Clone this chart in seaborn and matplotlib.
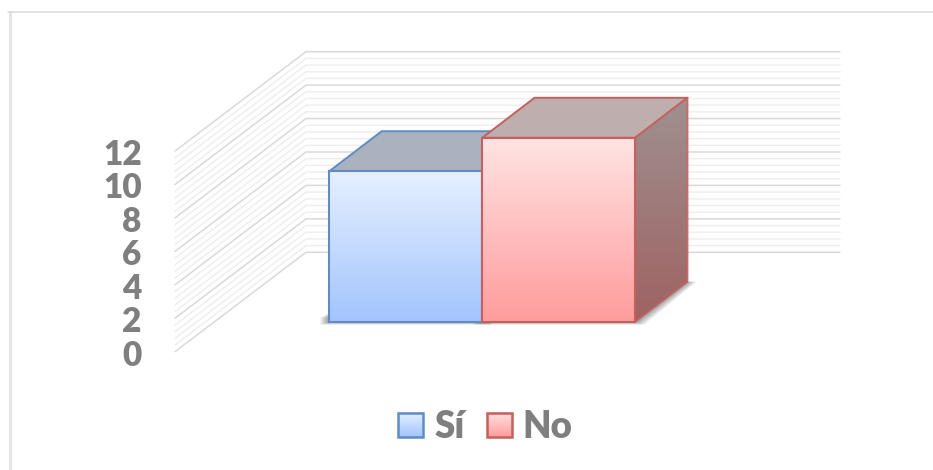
import numpy as np
import matplotlib
matplotlib.use("Agg")
import matplotlib.pyplot as plt
import seaborn as sns
from matplotlib.patches import Patch, Polygon, Rectangle
from matplotlib.colors import LinearSegmentedColormap

categories = ["Sí", "No"]
values = [9, 11]
y_ticks = [0, 2, 4, 6, 8, 10, 12]
front_top = ["#e6f0ff", "#ffe3e3"]
front_bottom = ["#a3c4fd", "#ff9c9c"]
edge_colors = ["#5f8cc2", "#c4605d"]
top_colors = ["#aab2bf", "#bfaeae"]
side_top = ["#7f8fa8", "#9f9090"]
side_bottom = ["#5f7fa8", "#a06262"]

W, H, DPI = 933, 470, 100
PX_X = 152.9      # pixels per category
PX_Y = 16.72      # pixels per value unit
X0, Y0 = 405.8, 321.7   # pixel of category 0 centre / value 0 at bar base
BAR_DX, BAR_DY = 52.3 / PX_X, 40.0 / PX_Y     # bar depth in data units
WALL_DX, WALL_DY = 131.0 / PX_X, 99.4 / PX_Y  # floor depth in data units
WALL_LEFT = (175 - X0) / PX_X
WALL_RIGHT = (840 - X0) / PX_X
WALL_FRONT = (Y0 - 351.7) / PX_Y

sns.set_theme(style="white")
fig = plt.figure(figsize=(W / DPI, H / DPI), dpi=DPI)
ax = fig.add_axes([0, 0, 1, 1])
xlim = ((0 - X0) / PX_X, (W - X0) / PX_X)
ylim = ((Y0 - H) / PX_Y, Y0 / PX_Y)

sns.barplot(x=categories, y=values, hue=categories, palette=front_bottom, width=1,
            dodge=False, legend=False, saturation=1, ax=ax, zorder=3)


def gradient(extent, c0, c1, zorder, clip=None):
    cmap = LinearSegmentedColormap.from_list("g", [c0, c1])
    im = ax.imshow(np.linspace(0, 1, 128).reshape(-1, 1), cmap=cmap, extent=extent,
                   origin="upper", aspect="auto", zorder=zorder, interpolation="bilinear")
    if clip is not None:
        im.set_clip_path(clip)
    return im


# chart-area frame (only top and left lines are visible in the picture)
ax.add_line(plt.Line2D([9.5 / W, 9.5 / W], [0, 1 - 11.5 / H], transform=ax.transAxes,
                       color="#e4e4e4", lw=2.2))
ax.add_line(plt.Line2D([8 / W, 1], [1 - 11.5 / H] * 2, transform=ax.transAxes,
                       color="#d9d9d9", lw=1.1))

# gridded walls: heavy lines at ticks, four faint lines between them
for t in np.arange(0, 12.01, 0.4):
    major = abs(t / 2 - round(t / 2)) < 1e-6
    col, lw = ("#d9d9d9", 1.1) if major else ("#eeeeee", 1.0)
    yf = WALL_FRONT + t
    ax.plot([WALL_LEFT, WALL_LEFT + WALL_DX, WALL_RIGHT],
            [yf, yf + WALL_DY, yf + WALL_DY], color=col, lw=lw, zorder=1 if major else 0.9,
            solid_joinstyle="miter")

# extruded faces and gradients for each bar
for i, (patch, val) in enumerate(zip(ax.patches, values)):
    x0, x1 = patch.get_x(), patch.get_x() + patch.get_width()
    z = 2 + i * 2
    ec = edge_colors[i]

    # soft floor shadow
    for k in range(1, 7):
        d = k * 1.5 / PX_X
        ax.add_patch(Polygon([(x0 - d, 0.22), (x0 - d, -0.03 * k), (x1 + d, -0.03 * k),
                              (x1 + BAR_DX + d, BAR_DY), (x0 + BAR_DX, BAR_DY)],
                             fc="#000000", alpha=0.07, ec="none", zorder=1.5))

    top = Polygon([(x0, val), (x1, val), (x1 + BAR_DX, val + BAR_DY), (x0 + BAR_DX, val + BAR_DY)],
                  fc=top_colors[i], ec=ec, lw=1.4, joinstyle="round", zorder=z)
    ax.add_patch(top)

    side = Polygon([(x1, 0), (x1 + BAR_DX, BAR_DY), (x1 + BAR_DX, val + BAR_DY), (x1, val)],
                   fc="none", ec=ec, lw=1.4, alpha=0.85, joinstyle="round", zorder=z + 0.3)
    ax.add_patch(side)
    gradient((x1, x1 + BAR_DX, 0, val + BAR_DY), side_top[i], side_bottom[i], z + 0.1, clip=side)

    gradient((x0, x1, 0, val), front_top[i], front_bottom[i], z + 0.4,
             clip=Rectangle((x0, 0), x1 - x0, val, transform=ax.transData))
    patch.set_facecolor("none")
    patch.set_edgecolor(ec)
    patch.set_linewidth(1.5)
    patch.set_zorder(z + 0.5)

ax.set_xlim(*xlim)
ax.set_ylim(*ylim)
ax.set_axis_off()

font = ["Lato", "DejaVu Sans"]

# value axis on the front edge of the side wall
yax = fig.add_axes([175 / W, 1 - 352.5 / H, 0.001, 200.5 / H], facecolor="none", zorder=4)
yax.set_ylim(0, 12)
yax.set_yticks(y_ticks)
yax.set_yticklabels([str(t) for t in y_ticks], fontfamily=font, fontweight="heavy",
                    fontsize=24, color="#7f7f7f")
yax.tick_params(axis="y", length=0, pad=24)
yax.set_xticks([])
sns.despine(ax=yax, left=True, bottom=True)

# legend
handles = [Patch(facecolor="none", edgecolor=edge_colors[i], linewidth=1.8, label=categories[i])
           for i in range(2)]
leg = ax.legend(handles=handles, loc="center", bbox_to_anchor=(485.5 / W, 1 - 427 / H),
                ncol=2, frameon=False, handlelength=0.68, handleheight=0.65,
                handletextpad=0.3, columnspacing=0.6, borderpad=0,
                prop={"family": font, "weight": "heavy", "size": 26.5})
for t in leg.get_texts():
    t.set_color("#7f7f7f")
fig.canvas.draw()
inv = ax.transData.inverted()
for i, hp in enumerate(leg.get_patches()):
    bb = hp.get_window_extent().transformed(inv)
    gradient((bb.x0, bb.x1, bb.y0, bb.y1), front_top[i], front_bottom[i], 4.5)
ax.set_xlim(*xlim)
ax.set_ylim(*ylim)

fig.savefig("out.png", dpi=DPI, facecolor="white")
